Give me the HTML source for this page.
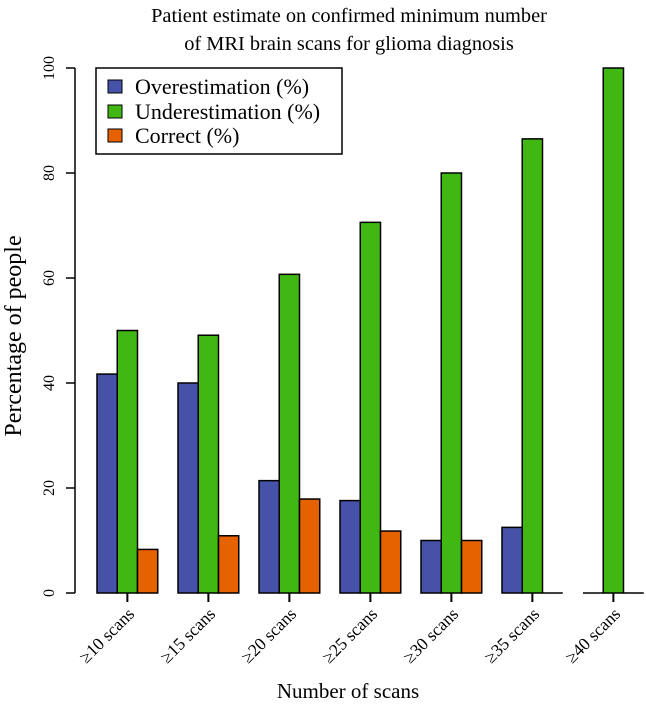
<!DOCTYPE html>
<html><head><meta charset="utf-8"><style>
body{margin:0;background:#fff}
svg text{font-family:"Liberation Serif",serif;fill:#000}
</style></head><body>
<svg id="chart" width="646" height="713" xmlns="http://www.w3.org/2000/svg">
<text x="349" y="22" font-size="20.4" text-anchor="middle">Patient estimate on confirmed minimum number</text>
<text x="349" y="50" font-size="20.4" text-anchor="middle">of MRI brain scans for glioma diagnosis</text>
<text transform="translate(21,336) rotate(-90)" font-size="24" text-anchor="middle">Percentage of people</text>
<text x="348" y="698" font-size="21" text-anchor="middle">Number of scans</text>
<g id="axes"></g><g id="bars"></g>
<g>
<rect x="96" y="68" width="246" height="86" fill="#fff" stroke="#000" stroke-width="1.5"/>
<rect x="108" y="80" width="14" height="13" fill="#4652A8" stroke="#000"/>
<text x="135" y="94" font-size="22">Overestimation (%)</text>
<rect x="108" y="105" width="14" height="13" fill="#41B713" stroke="#000"/>
<text x="135" y="119" font-size="22">Underestimation (%)</text>
<rect x="108" y="129" width="14" height="13" fill="#E66100" stroke="#000"/>
<text x="135" y="143" font-size="22">Correct (%)</text>
</g>
</svg>
<script>
const categories=["≥10 scans","≥15 scans","≥20 scans","≥25 scans","≥30 scans","≥35 scans","≥40 scans"];
const overValues=[41.7,40,21.4,17.6,10,12.5,0];
const underValues=[50,49.1,60.7,70.6,80,86.5,100];
const correctValues=[8.3,10.9,17.9,11.8,10,0,0];
const yTicks=[0,20,40,60,80,100];
const NS="http://www.w3.org/2000/svg";
const y0=593,yTop=68,bw=20.25,gx0=97;
function yS(v){return y0-(v/100)*(y0-yTop);}
function xS(g,s){return gx0+g*4*bw+s*bw;}
const axes=document.getElementById('axes'),bars=document.getElementById('bars');
function mk(t,a,p){const e=document.createElementNS(NS,t);for(const k in a)e.setAttribute(k,a[k]);p.appendChild(e);return e;}
const yl=mk('line',{x1:75,x2:75,y1:yS(0),y2:yS(100),stroke:'#000','stroke-width':1.5},axes);


yTicks.forEach(v=>{
 const l=mk('line',{x1:66,x2:75,y1:yS(v),y2:yS(v),stroke:'#000','stroke-width':1.5},axes);
 
 
 const t=mk('text',{transform:`translate(54,${yS(v)}) rotate(-90)`,'text-anchor':'middle','font-size':16},axes);
 t.textContent=v;
 
 
});
const series=[[overValues,'#4652A8'],[underValues,'#41B713'],[correctValues,'#E66100']];
categories.forEach((c,g)=>{
 series.forEach(([vals,col],s)=>{
  const x=xS(g,s),v=vals[g];
  let r;
  if(v>0){r=mk('rect',{x:x,y:yS(v),width:bw,height:yS(0)-yS(v),fill:col,stroke:'#000','stroke-width':1.5},bars);}
  else{r=mk('line',{x1:x,x2:x+bw,y1:y0,y2:y0,stroke:'#000','stroke-width':1.5},bars);}
  
  
 });
 const cx=xS(g,1.5);
 const tk=mk('line',{x1:cx,x2:cx,y1:y0,y2:y0+9,stroke:'#000','stroke-width':2},axes);
 
 
 const t=mk('text',{transform:`translate(${cx+8},${y0+22}) rotate(-45)`,'text-anchor':'end','font-size':17.5},axes);
 t.textContent=c;
 
 
});
</script>
</body></html>
